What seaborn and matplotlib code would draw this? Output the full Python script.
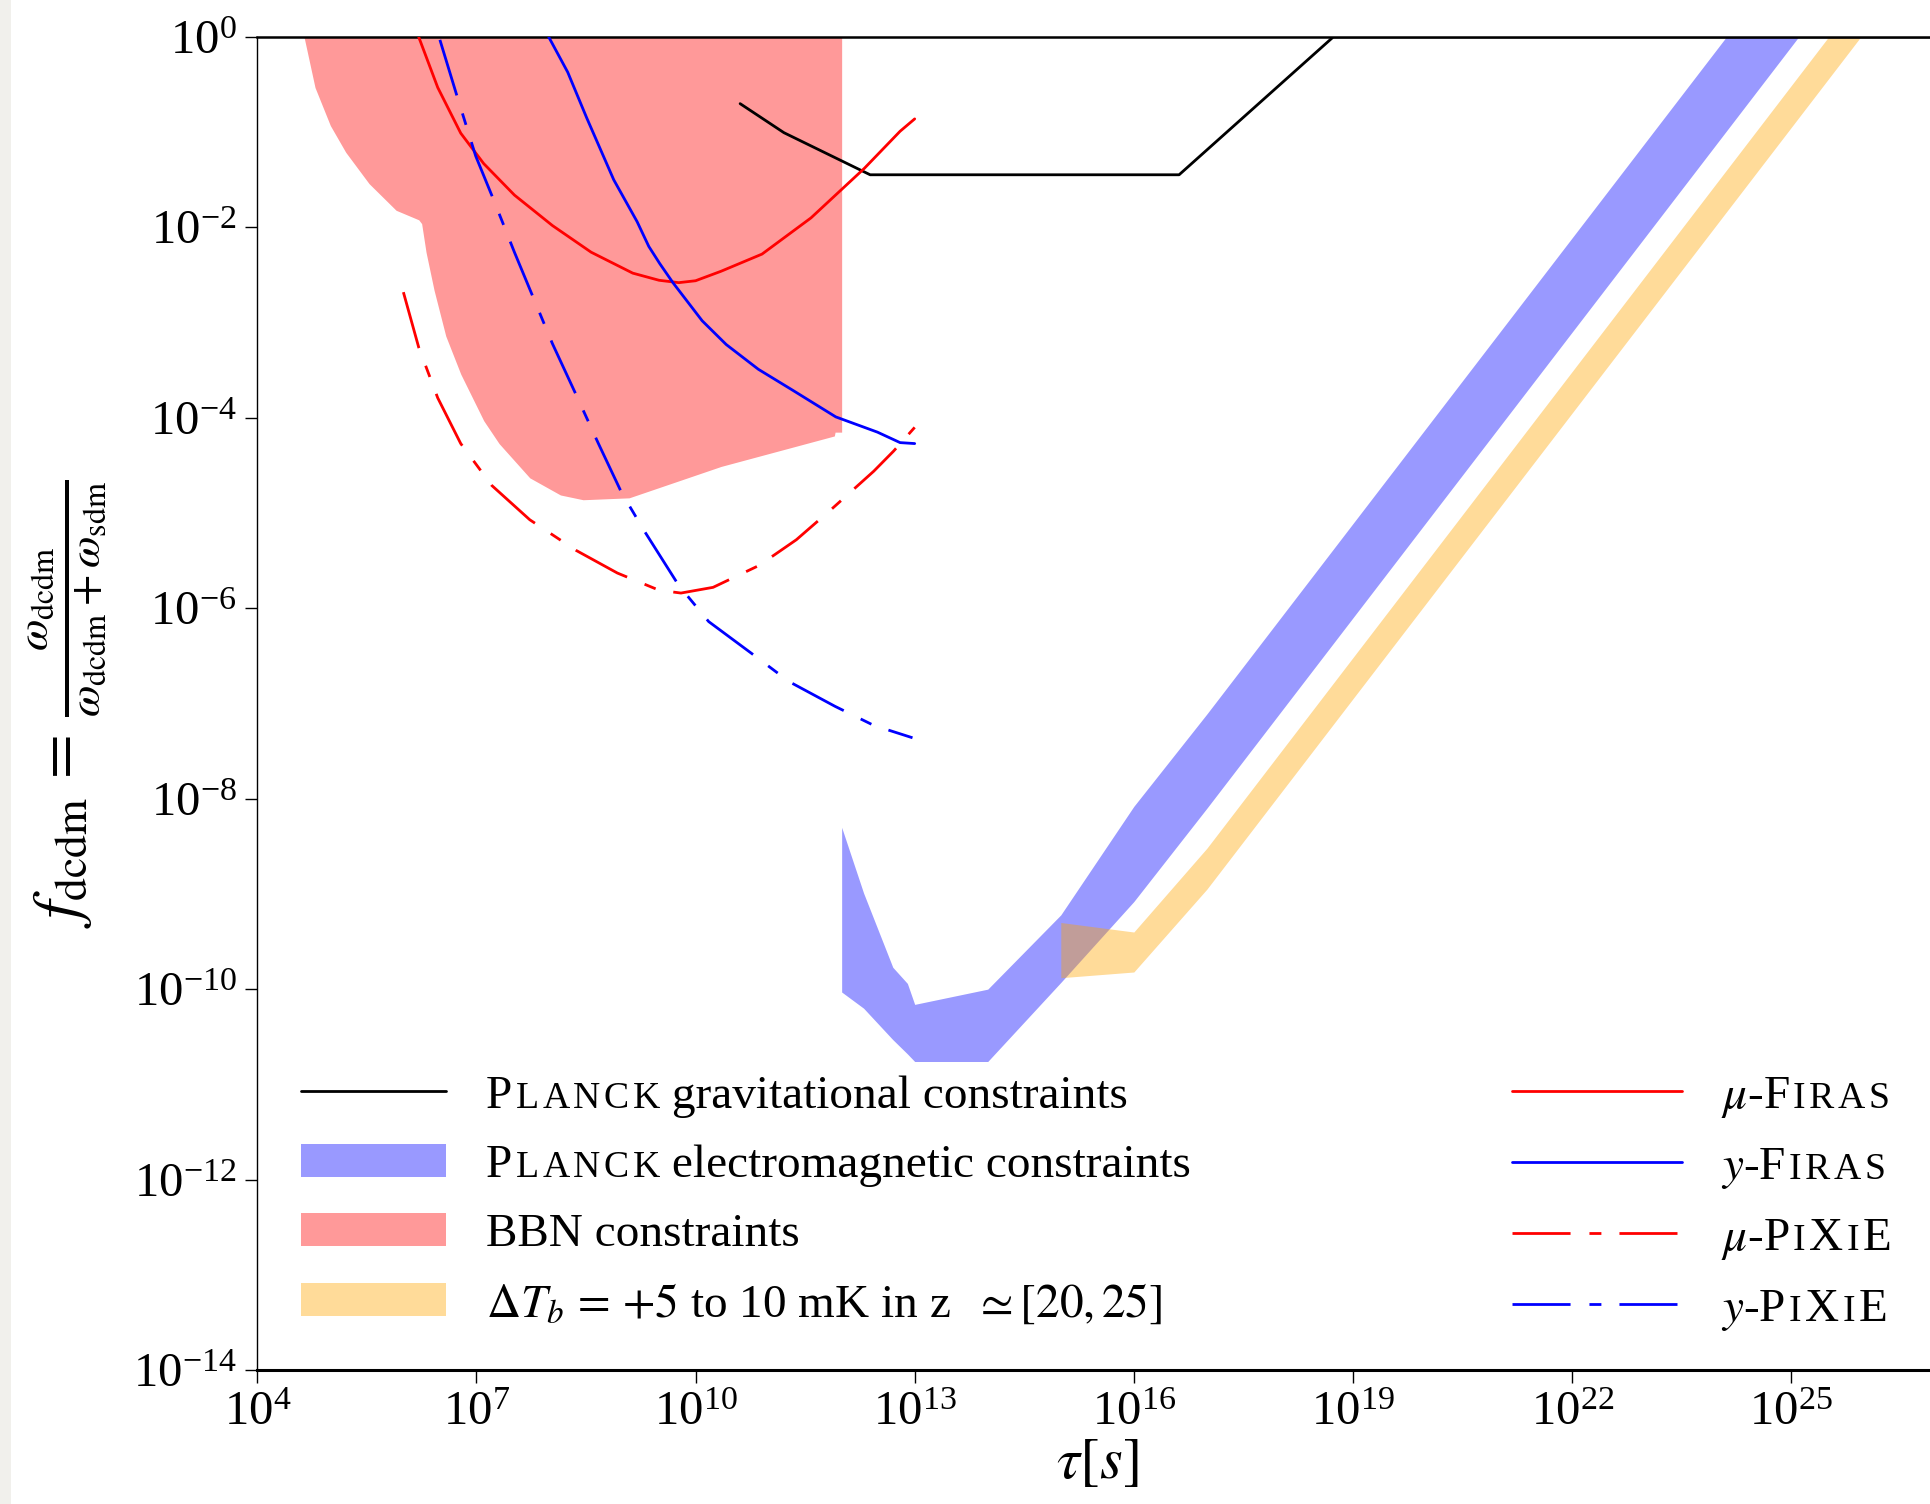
import numpy as np
import matplotlib
matplotlib.use("Agg")
import matplotlib.pyplot as plt
import seaborn as sns
from matplotlib.lines import Line2D
from matplotlib.patches import Patch, Rectangle
from matplotlib.offsetbox import TextArea, HPacker
from matplotlib.ticker import FixedLocator, NullLocator, LogFormatterSciNotation

# ---------------- data: log10(tau / s) and log10(f_dcdm) ----------------
# BBN excluded region (lower boundary, region extends up to f = 1)
bbn_logtau = [4.64, 4.79, 5.00, 5.21, 5.53, 5.90, 6.21, 6.25, 6.31, 6.42, 6.58,
              6.785, 7.10, 7.31, 7.73, 8.15, 8.46, 9.09, 10.35, 11.90, 11.91, 12.00]
bbn_logf = [0.0, -0.53, -0.93, -1.21, -1.54, -1.82, -1.92, -1.96, -2.26, -2.66, -3.14,
            -3.54, -4.03, -4.27, -4.63, -4.81, -4.86, -4.84, -4.51, -4.19, -4.15, -4.15]

# Planck electromagnetic constraints (band)
em_logtau = [12.0, 12.3, 12.7, 12.9, 13.0, 14.0, 15.0, 16.0, 17.0, 24.11, 25.10]
em_upper = [-8.30, -8.99, -9.77, -9.94, -10.16, -10.00, -9.22, -8.08, -7.11, 0.00, 0.99]
em_lower = [-10.03, -10.20, -10.53, -10.68, -10.76, -10.76, -9.93, -9.08, -8.10, -0.99, 0.00]

# 21-cm brightness temperature band
t21_logtau = [15.0, 16.0, 17.0, 25.51, 25.95]
t21_upper = [-9.30, -9.40, -8.52, 0.00, 0.44]
t21_lower = [-9.88, -9.82, -8.95, -0.44, 0.00]

# Planck gravitational constraints
grav_logtau = [10.61, 11.21, 12.39, 16.62, 18.73, 27.0]
grav_logf = [-0.70, -1.005, -1.447, -1.447, 0.0, 0.0]

# spectral distortion limits
mu_firas_logtau = [6.21, 6.47, 6.785, 7.10, 7.52, 8.04, 8.57, 9.14, 9.50, 9.77,
                   10.00, 10.35, 10.91, 11.58, 12.31, 12.80, 13.00]
mu_firas_logf = [0.0, -0.53, -1.01, -1.33, -1.66, -1.98, -2.26, -2.48, -2.555, -2.58,
                 -2.56, -2.46, -2.28, -1.90, -1.38, -0.99, -0.86]

y_firas_logtau = [7.99, 8.25, 8.51, 8.88, 9.20, 9.36, 9.51, 9.69, 10.09, 10.42, 10.86,
                  11.33, 11.92, 12.49, 12.80, 13.00]
y_firas_logf = [0.0, -0.37, -0.85, -1.50, -1.94, -2.20, -2.38, -2.58, -2.98, -3.23, -3.49,
                -3.71, -3.99, -4.15, -4.26, -4.27]

mu_pixie_logtau = [6.00, 6.21, 6.47, 6.785, 7.21, 7.73, 8.36, 8.93, 9.50, 9.80,
                   10.24, 10.87, 11.38, 11.86, 12.44, 12.71, 13.00]
mu_pixie_logf = [-2.68, -3.26, -3.79, -4.27, -4.71, -5.07, -5.39, -5.63, -5.81, -5.84,
                 -5.78, -5.55, -5.28, -4.96, -4.56, -4.35, -4.10]

y_pixie_logtau = [6.50, 6.73, 6.99, 7.23, 7.52, 7.78, 8.04, 8.36, 8.67, 8.99, 9.30,
                  9.77, 10.18, 10.76, 11.28, 11.91, 12.44, 12.97]
y_pixie_logf = [-0.03, -0.61, -1.25, -1.70, -2.26, -2.74, -3.22, -3.75, -4.27, -4.79,
                -5.19, -5.76, -6.14, -6.47, -6.77, -7.03, -7.23, -7.36]

x_tick_exps = [4, 7, 10, 13, 16, 19, 22, 25]
y_tick_exps = [0, -2, -4, -6, -8, -10, -12, -14]

# ---------------- style ----------------
sns.set_style("ticks")
plt.rcParams.update({
    "font.family": ["Liberation Serif", "DejaVu Serif"],
    "mathtext.fontset": "stix",
    "text.color": "black",
    "axes.labelcolor": "black",
    "axes.edgecolor": "black",
    "xtick.color": "black",
    "ytick.color": "black",
})

def p10(v):
    return 10.0 ** np.asarray(v, dtype=float)

fig = plt.figure(figsize=(19.30, 15.04), dpi=100)
fig.add_artist(Rectangle((0, 0), 11 / 1930, 1, transform=fig.transFigure,
                         facecolor="#f1f0ec", edgecolor="none", zorder=0))
ax = fig.add_axes([257.3 / 1930, 1 - 1370 / 1504, 1680 / 1930, 1333 / 1504])
ax.set_xscale("log")
ax.set_yscale("log")

# shaded regions
ax.fill_between(p10(bbn_logtau), p10(bbn_logf), 1.0, color="red", alpha=0.4, lw=0, zorder=1)
ax.fill_between(p10(em_logtau), p10(em_lower), p10(em_upper), color="blue", alpha=0.4, lw=0, zorder=1)
ax.fill_between(p10(t21_logtau), p10(t21_lower), p10(t21_upper), color="orange", alpha=0.4, lw=0, zorder=1)

# curves
LW = 2.0
DASHDOT = (20.9, 6.8, 4.3, 6.5)
curves = [
    (grav_logtau, grav_logf, "black", None),
    (mu_firas_logtau, mu_firas_logf, "red", None),
    (y_firas_logtau, y_firas_logf, "blue", None),
    (mu_pixie_logtau, mu_pixie_logf, "red", DASHDOT),
    (y_pixie_logtau, y_pixie_logf, "blue", DASHDOT),
]
for xs, ys, col, dash in curves:
    sns.lineplot(x=p10(xs), y=p10(ys), ax=ax, color=col, lw=LW,
                 estimator=None, sort=False, zorder=3)
    if dash is not None:
        ax.lines[-1].set_dashes(dash)

ax.set_xlim(1e4, 1e27)
ax.set_ylim(1e-14, 1.0)

ax.xaxis.set_major_locator(FixedLocator(p10(x_tick_exps)))
ax.yaxis.set_major_locator(FixedLocator(p10(y_tick_exps)))
ax.xaxis.set_minor_locator(NullLocator())
ax.yaxis.set_minor_locator(NullLocator())
ax.xaxis.set_major_formatter(LogFormatterSciNotation())
ax.yaxis.set_major_formatter(LogFormatterSciNotation())
ax.tick_params(axis="both", which="major", labelsize=35, length=9, width=1.0,
               direction="out", pad=6)

ax.spines["right"].set_visible(False)
ax.spines["left"].set_linewidth(1.0)
ax.spines["bottom"].set_linewidth(2.2)
ax.spines["top"].set_linewidth(1.8)

ax.set_xlabel(r"$\tau[s]$", fontsize=42, labelpad=2)
ax.set_ylabel(r"$f_{\rm dcdm} \,=\, \frac{\omega_{\rm dcdm}}{\omega_{\rm dcdm}+\omega_{\rm sdm}}$",
              fontsize=47, labelpad=18)

# ---------------- legends ----------------
FS = 34
SC = 0.80
TRACK = 2.5

left_handles = [
    Line2D([], [], color="black", lw=LW),
    Patch(facecolor="blue", alpha=0.4, edgecolor="none"),
    Patch(facecolor="red", alpha=0.4, edgecolor="none"),
    Patch(facecolor="orange", alpha=0.4, edgecolor="none"),
]
left_labels = [
    "Planck gravitational constraints",
    "Planck electromagnetic constraints",
    "BBN constraints",
    r"$\Delta T_b \,=\, {+}5$ to 10 mK in z  $\simeq [20,25]$",
]
right_handles = [
    Line2D([], [], color="red", lw=LW),
    Line2D([], [], color="blue", lw=LW),
    Line2D([], [], color="red", lw=LW, dashes=DASHDOT),
    Line2D([], [], color="blue", lw=LW, dashes=DASHDOT),
]
right_labels = [r"$\mu$-Firas", r"$y$-Firas", r"$\mu$-Pixie", r"$y$-Pixie"]

# small-capital typesetting of mission names: a list entry is either plain
# text (text, small) or a letter-spaced word given as a list of (letter, small)
PLANCK = [("P", 0), ("L", 1), ("A", 1), ("N", 1), ("C", 1), ("K", 1)]
FIRAS = [("F", 0), ("I", 1), ("R", 1), ("A", 1), ("S", 1)]
PIXIE = [("P", 0), ("I", 1), ("X", 0), ("I", 1), ("E", 0)]
rich = {
    "Planck gravitational constraints": [PLANCK, (" gravitational constraints", 0)],
    "Planck electromagnetic constraints": [PLANCK, (" electromagnetic constraints", 0)],
    r"$\mu$-Firas": [(r"$\mu$-", 0), FIRAS],
    r"$y$-Firas": [(r"$y$-", 0), FIRAS],
    r"$\mu$-Pixie": [(r"$\mu$-", 0), PIXIE],
    r"$y$-Pixie": [(r"$y$-", 0), PIXIE],
}

def text_area(t, small):
    return TextArea(t, textprops=dict(fontsize=FS * (SC if small else 1.0), color="black"))

def smallcaps_box(parts):
    boxes = []
    for part in parts:
        if isinstance(part, list):
            boxes.append(HPacker(children=[text_area(t, s) for t, s in part],
                                 align="baseline", pad=0, sep=TRACK))
        else:
            boxes.append(text_area(*part))
    box = HPacker(children=boxes, align="baseline", pad=0, sep=0)
    box.set_figure(fig)
    return box

def apply_smallcaps(leg):
    for col in leg._legend_handle_box.get_children():
        for item in col.get_children():
            kids = item.get_children()
            txt = kids[1]._text.get_text()
            if txt in rich:
                kids[1] = smallcaps_box(rich[txt])

common = dict(frameon=False, fontsize=FS, borderpad=0, borderaxespad=0,
              labelspacing=0.55, loc="upper left")
leg1 = ax.legend(left_handles, left_labels, bbox_to_anchor=(0.0263, 0.2215),
                 handlelength=3.05, handletextpad=0.86, **common)
apply_smallcaps(leg1)
ax.add_artist(leg1)
leg2 = ax.legend(right_handles, right_labels, bbox_to_anchor=(0.7466, 0.2215),
                 handlelength=3.6, handletextpad=0.83, **common)
apply_smallcaps(leg2)

fig.savefig("out.png", dpi=100)
